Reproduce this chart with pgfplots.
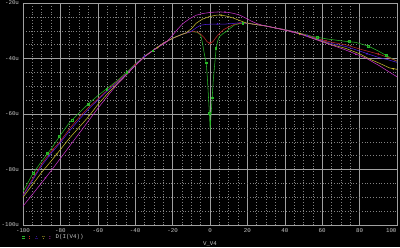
\documentclass[border=0pt]{standalone}
\usepackage{fontspec}
\setmainfont{Liberation Mono}
\usepackage{pgfplots}
\pgfplotsset{compat=1.18}
\definecolor{cgreen}{RGB}{40,185,40}
\definecolor{cred}{RGB}{190,40,40}
\definecolor{cblue}{RGB}{80,30,220}
\definecolor{cyellow}{RGB}{195,185,45}
\definecolor{cmag}{RGB}{200,50,200}
\definecolor{gridc}{RGB}{160,160,160}
\definecolor{gridm}{RGB}{130,130,130}
\definecolor{txt}{RGB}{200,200,200}
\begin{document}
\begin{tikzpicture}
\fill[black] (-23pt,-22pt) rectangle (377pt,225pt);
\begin{axis}[
  at={(0,0)}, anchor=south west,
  scale only axis, width=374pt, height=222pt,
  xmin=-100, xmax=100, ymin=-100, ymax=-20,
  xtick={-100,-80,...,80},
  xticklabels={-100,-80,-60,-40,-20,0,20,40,60,80},
  extra x ticks={100},
  extra x tick labels={100},
  extra x tick style={grid=major, xticklabel style={anchor=north east, xshift=3pt}},
  ytick={-100,-80,-60,-40,-20},
  yticklabels={-100u,-80u,-60u,-40u,-20u},
  minor x tick num=3, minor y tick num=3,
  grid=both,
  major grid style={gridc, line width=0.5pt},
  minor grid style={gridm, dash pattern=on 0.6pt off 2.2pt, line width=0.5pt},
  axis line style={gridc, line width=0.6pt},
  major tick length=0pt, minor tick length=0pt,
  tick label style={font=\fontsize{5.8}{6}\selectfont, text=txt},
  xticklabel style={yshift=-0.5pt},
  yticklabel style={xshift=-0.5pt},
  xlabel={V\_V4},
  xlabel style={font=\fontsize{5.8}{6}\selectfont, text=txt, at={(axis description cs:0.5,0)}, anchor=center, yshift=-18.5pt},
  legend style={at={(axis description cs:0,0)}, anchor=west, yshift=-12.5pt, xshift=-1pt,
     draw=none, fill=none, text=txt, font=\fontsize{5.8}{6}\selectfont, inner sep=0pt,
     nodes={inner sep=1pt}},
  legend cell align=left,
  every axis plot/.append style={line width=0.55pt},
]
% green
\addplot[cgreen, forget plot] coordinates {
(-100,-88) (-95,-81.8) (-90,-77) (-85,-72.6) (-80,-67.6) (-75,-63) (-70,-59.6)
(-65,-56.3) (-60,-53.4) (-55,-50.8) (-50,-48.2) (-45,-45.2) (-40,-42) (-35,-39.1)
(-30,-36.8) (-25,-34.5) (-20,-32.7) (-15,-31.3) (-10,-30.3) (-7,-30.5) (-5,-31.5)
(-4,-34.5) (-3,-38.5) (-2,-41.7) (-1.4,-47) (-0.8,-54) (-0.3,-60) (0.1,-65.8)
(0.6,-60) (1.2,-53.8) (1.8,-47.5) (2.4,-43) (3.3,-36.3) (4.2,-33.5) (5.1,-32.1)
(7,-31) (8.7,-30.3) (11,-29) (13.1,-27.9) (17.5,-27.2) (21,-27.4) (25,-27.8)
(30,-28.3) (35,-29.0) (40,-29.6) (45,-30.3) (50,-31.2) (55,-32.1) (63,-33.0)
(71,-33.7) (78,-34.2) (85,-35.6) (90,-37.3) (95,-39.2) (100,-41)};
% red
\addplot[cred, forget plot] coordinates {
(-100,-89.2) (-95,-83.5) (-90,-78) (-85,-73.5) (-80,-69.8) (-75,-65.2) (-70,-61.2)
(-65,-57.7) (-60,-54.6) (-55,-51.5) (-50,-48.5) (-45,-45.6) (-40,-42.2) (-35,-39.2)
(-30,-36.9) (-25,-34.5) (-20,-32.7) (-15,-31.3) (-10,-30.3) (-7,-30.4) (-5,-31.2)
(-3,-32.6) (-1.5,-34) (0,-34.5) (1.5,-34) (3,-32.6) (5,-31) (7.5,-29.5) (10.4,-28.5)
(13,-27.7) (17.5,-27.2) (21,-27.4) (25,-27.8) (30,-28.3) (35,-29.0) (40,-29.6)
(45,-30.4) (50,-31.3) (55,-32.3) (60,-33.3) (65,-34.1) (72.8,-35.1) (81.7,-36.9)
(90.6,-38.5) (95,-39.6) (100,-40.9)};
% blue
\addplot[cblue, forget plot] coordinates {
(-100,-89.5) (-95,-84) (-90,-78.6) (-85,-74.2) (-80,-70.3) (-75,-66) (-70,-62)
(-65,-58.3) (-60,-55) (-55,-51.8) (-50,-48.8) (-45,-45.8) (-40,-42.3) (-35,-39.2)
(-30,-36.9) (-25,-34.5) (-20,-32.7) (-15,-31.3) (-10,-30.2) (-7.5,-29) (-5,-28)
(-2,-27.7) (2,-27.6) (8,-27.6) (12,-27.4) (16,-27.1) (21,-27.4) (25,-27.8)
(30,-28.3) (35,-29.0) (40,-29.6) (45,-30.4) (50,-31.4) (55,-32.5) (60,-33.6)
(65,-34.6) (72.8,-35.7) (81.7,-37.7) (90,-39.6) (95,-40.4) (100,-41.4)};
% yellow
\addplot[cyellow, forget plot] coordinates {
(-100,-90) (-95,-85.5) (-90,-81) (-85,-77) (-80,-72.8) (-75,-68.6) (-70,-64.8)
(-65,-61) (-60,-56.6) (-55,-52.8) (-50,-49.3) (-45,-46) (-40,-42.5) (-35,-39.3)
(-30,-36.9) (-25,-34.5) (-20,-32.7) (-15,-31.3) (-13,-30.8) (-10,-29.3) (-7.4,-27.3)
(-4,-25.8) (-0.3,-24.9) (3.3,-24.4) (6,-24.4) (8.7,-24.7) (12,-25.3) (15.8,-26.3)
(19.4,-27.2) (21,-27.4) (25,-27.8) (30,-28.3) (35,-29.0) (40,-29.7) (45,-30.5)
(50,-31.5) (55,-32.7) (60,-33.8) (65,-35) (72.8,-36.4) (80,-38.3) (85.3,-40.2)
(90.6,-41.7) (96,-43.4) (100,-43.9)};
% magenta
\addplot[cmag, forget plot] coordinates {
(-100,-93.2) (-95,-89) (-90,-84.8) (-85,-80.5) (-80,-76) (-75,-71.5) (-70,-67)
(-65,-62.5) (-60,-58) (-55,-53.7) (-50,-49.6) (-45,-46.1) (-40,-42.6) (-35,-39.4)
(-30,-36.9) (-25,-34.8) (-23,-33.9) (-20,-31.6) (-17,-29.2) (-14.5,-27.4) (-11,-25.7)
(-7.4,-24.4) (-4,-23.8) (0,-23.4) (5,-23.2) (10,-23.4) (13,-23.8) (16,-24.4)
(19,-25.4) (22,-26.5) (25,-27.4) (28,-28.0) (30,-28.3) (35,-29.0) (40,-29.8)
(45,-30.6) (50,-31.6) (55,-32.8) (60,-34) (65.7,-35.3) (72.8,-37) (83.5,-39.9)
(90.6,-42.6) (95,-44.5) (100,-46.6)};
% markers
\addplot[cgreen, only marks, mark=square, mark size=0.9pt, line width=0.4pt, forget plot] coordinates {
(-94.5,-81.4) (-87.1,-74.2) (-80.5,-67.9) (-73.9,-62.2) (-65.3,-56.4) (-55.2,-51.1)
(-44.5,-45) (-30.6,-37.2) (-1.9,-41.5) (-0.5,-59.7) (1.0,-54.1) (3.0,-36.3)
(17.5,-27.3) (57.3,-32.4) (74.6,-33.9) (84.4,-35.5) (94.2,-38.9)};
\addplot[cred, only marks, mark=diamond, mark size=0.9pt, line width=0.4pt, forget plot] coordinates {
(-84,-72.8) (-40,-42.2) (0,-34.5) (62,-33.6) (90,-38.4)};
\addplot[cblue, only marks, mark=triangle, mark size=0.9pt, line width=0.4pt, forget plot] coordinates {
(-86,-75) (-35,-39.2) (4,-27.6) (52,-31.8) (84,-38.3)};
\addplot[cyellow, only marks, mark=triangle, mark options={rotate=180}, mark size=0.9pt, line width=0.4pt, forget plot] coordinates {
(-82,-74.5) (-28,-36) (6,-24.4) (48,-31.1) (98,-43.7)};
\addplot[cmag, only marks, mark=x, mark size=0.9pt, line width=0.4pt, forget plot] coordinates {
(-88,-83) (-24,-34.3) (8,-23.3) (44,-30.4) (78,-38.5)};
\addlegendimage{legend image code/.code={%
  \draw[cgreen, line width=0.4pt] (0pt,-1pt) rectangle (2pt,1pt);
  \draw[cred, line width=0.4pt] (7pt,-1.1pt) -- (7pt,1.1pt) (5.9pt,0pt) -- (8.1pt,0pt);
  \draw[cblue, line width=0.4pt] (13pt,-1pt) -- (15pt,-1pt) -- (14pt,1pt) -- cycle;
  \draw[cyellow, line width=0.4pt] (20pt,1pt) -- (22pt,1pt) -- (21pt,-1pt) -- cycle;
  \draw[cmag, line width=0.4pt] (27pt,-1pt) -- (29pt,0pt) -- (27pt,1pt) -- cycle;
  \path (0pt,0pt) -- (32pt,0pt);
}}
\addlegendentry{D(I(V4))}
\end{axis}
\pgfresetboundingbox
\useasboundingbox (-23pt,-22pt) rectangle (377pt,225pt);
\end{tikzpicture}
\end{document}
